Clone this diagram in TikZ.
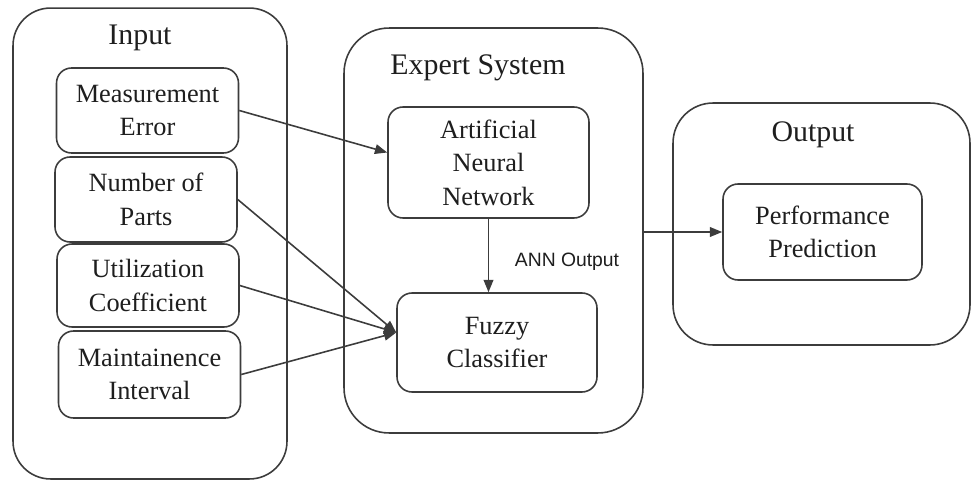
\documentclass[tikz,border=0pt]{standalone}
\usepackage{fontspec}
\setmainfont{Liberation Serif}
\newfontfamily\annfont{Liberation Sans}
\usepackage{tikz}
\usetikzlibrary{arrows.meta,positioning,calc}
\definecolor{linegray}{RGB}{60,60,60}
\definecolor{textgray}{RGB}{30,30,30}

\begin{document}
\begin{tikzpicture}[
    x=0.02cm, y=-0.02cm,
    group/.style={rectangle, draw=linegray, rounded corners=0.75cm, line width=0.9pt},
    block/.style={rectangle, draw=linegray, rounded corners=0.3cm, line width=0.9pt, align=center, text=textgray, font=\rmfamily\fontsize{15}{19}\selectfont, minimum width=3.64cm, minimum height=1.7cm, inner sep=0pt},
    title/.style={text=textgray, font=\rmfamily\fontsize{17}{20}\selectfont},
    arrow/.style={-{Triangle[length=7pt,width=5.5pt]}, line width=0.9pt, color=linegray}
]
\useasboundingbox (0,0) rectangle (973,480);

% containers
\node[group, minimum width=5.48cm, minimum height=9.42cm] (inbox) at (150, 243.5) {};
\node[group, rounded corners=0.9cm, minimum width=5.98cm, minimum height=8.1cm] (expert) at (493.5, 230.5) {};
\node[group, rounded corners=0.8cm, minimum width=5.94cm, minimum height=4.84cm] (outbox) at (821.5, 224) {};

\node[title] (intitle) at (140, 38) {Input};
\node[title] (extitle) at (478, 68) {Expert System};
\node[title] (outtitle) at (813, 135) {Output};

% inputs
\node[block] (meas) at (147.5, 110.5) {Measurement\\Error};
\node[block] (parts) at (146, 199.5) {Number of\\Parts};
\node[block, minimum height=1.66cm] (util) at (148, 285.5) {Utilization\\Coefficient};
\node[block, minimum height=1.74cm] (maint) at (149.5, 374.5) {Maintainence\\Interval};

% expert system
\node[block, minimum width=4.02cm, minimum height=2.22cm] (ann) at (488.5, 162.5) {Artificial\\Neural\\Network};
\node[block, minimum width=4cm, minimum height=1.98cm] (fuzzy) at (497, 342.5) {Fuzzy\\Classifier};

% output
\node[block, minimum width=3.98cm, minimum height=1.92cm] (perf) at (822.5, 232) {Performance\\Prediction};

\coordinate (annin) at ([yshift=0.2cm]ann.west);
\coordinate (fzin) at ([yshift=0.2cm]fuzzy.west);

\draw[arrow] (meas.east) -- (annin);
\draw[arrow] (parts.east) -- (fzin);
\draw[arrow] (util.east) -- (fzin);
\draw[arrow] (maint.east) -- (fzin);
\draw[arrow] (ann.south) -- (ann.south |- fuzzy.north);
\node[font=\annfont\fontsize{11}{13}\selectfont, text=textgray] (annout) at (567, 262) {ANN Output};
\draw[arrow] (perf.west -| expert.east) -- (perf.west);
\end{tikzpicture}
\end{document}
